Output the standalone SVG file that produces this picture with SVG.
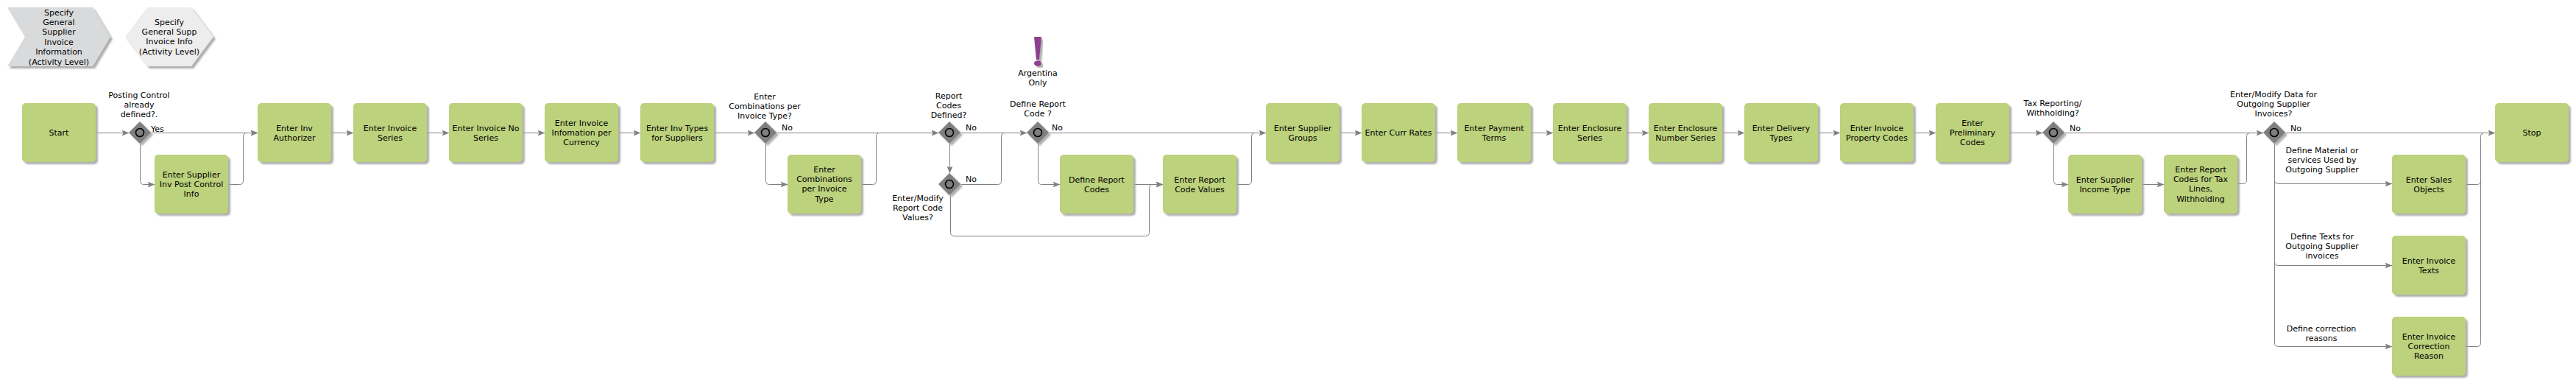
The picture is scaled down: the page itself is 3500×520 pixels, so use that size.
<svg xmlns="http://www.w3.org/2000/svg" width="3500" height="520" viewBox="0 0 3500 520">
<style>
text{font-family:"DejaVu Sans",Verdana,sans-serif;font-size:11px;fill:#000;text-anchor:middle}
text.l{text-anchor:start}
.n{fill:#bcd27b}
.s{filter:url(#sh)}
.c path{fill:none;stroke:#808080;stroke-width:1}
.c path.a{marker-end:url(#ah)}
.d{fill:#7f7f7f}
.o{fill:#7f7f7f;stroke:#000;stroke-width:1.6}
</style>
<defs>
<filter id="sh" x="-20%" y="-20%" width="140%" height="140%"><feDropShadow dx="3" dy="3" stdDeviation="1" flood-color="#a0a0a0" flood-opacity="0.85"/></filter>
<marker id="ah" markerUnits="userSpaceOnUse" markerWidth="12" markerHeight="10" refX="10" refY="4.5" orient="auto"><path d="M0 0.5L10 4.5L0 8.5L2 4.5Z" fill="#808080"/></marker>
<rect id="box" class="n" width="100" height="80" rx="5"/>
<g id="dia"><path class="d" d="M0-15L15 0L0 15L-15 0Z"/><circle class="o" r="5.5"/></g>
</defs>
<g id="connectors" class="c" transform="translate(.5 .5)">
<path class="a" d="M130 180H175"/>
<path class="a" d="M205 180H350"/>
<path class="a" d="M190 195V245Q190 250 195 250H210"/>
<path class="a" d="M310 250H325Q330 250 330 245V185Q330 180 335 180H350"/>
<path class="a" d="M450 180H480"/>
<path class="a" d="M580 180H610"/>
<path class="a" d="M710 180H740"/>
<path class="a" d="M840 180H870"/>
<path class="a" d="M970 180H1025"/>
<path class="a" d="M1055 180H1275"/>
<path class="a" d="M1040 195V245Q1040 250 1045 250H1070"/>
<path d="M1170 250H1185Q1190 250 1190 245V185Q1190 180 1195 180H1210"/>
<path class="a" d="M1305 180H1395"/>
<path class="a" d="M1290 195V235"/>
<path d="M1305 250H1355Q1360 250 1360 245V185Q1360 180 1365 180H1376"/>
<path class="a" d="M1291 265V315Q1291 320 1296 320H1556Q1561 320 1561 315V255Q1561 250 1566 250H1580"/>
<path class="a" d="M1425 180H1720"/>
<path class="a" d="M1410 195V245Q1410 250 1415 250H1440"/>
<path class="a" d="M1540 250H1580"/>
<path d="M1680 250H1695Q1700 250 1700 245V185Q1700 180 1705 180H1715"/>
<path class="a" d="M1820 180H1850"/>
<path class="a" d="M1950 180H1980"/>
<path class="a" d="M2080 180H2110"/>
<path class="a" d="M2210 180H2240"/>
<path class="a" d="M2340 180H2370"/>
<path class="a" d="M2470 180H2500"/>
<path class="a" d="M2600 180H2630"/>
<path class="a" d="M2730 180H2775"/>
<path class="a" d="M2805 180H3075"/>
<path class="a" d="M2790 195V245Q2790 250 2795 250H2810"/>
<path class="a" d="M2910 250H2940"/>
<path d="M3040 249H3047Q3052 249 3052 244V185Q3052 180 3057 180H3065"/>
<path class="a" d="M3105 180H3390"/>
<path class="a" d="M3090 195V244Q3090 249 3095 249H3250"/>
<path class="a" d="M3090 244V355Q3090 360 3095 360H3250"/>
<path class="a" d="M3090 355V465Q3090 470 3095 470H3250"/>
<path d="M3350 250H3365Q3370 250 3370 245"/>
<path d="M3350 470H3365Q3370 470 3370 465V185Q3370 180 3375 180H3385"/>
</g>
<g id="chevron" class="s"><path d="M10 10H126L150 50L126 90H10L34 50Z" fill="#d9dadc"/></g>
<g id="chevron-label"><text x="80" y="21">Specify</text><text x="80" y="34">General</text><text x="80" y="47">Supplier</text><text x="80" y="61">Invoice</text><text x="80" y="74">Information</text><text x="80" y="88">(Activity Level)</text></g>
<g id="hexagon" class="s"><path d="M170 50L200 10H260L290 50L260 90H200Z" fill="#ededed"/></g>
<g id="hexagon-label"><text x="230" y="34">Specify</text><text x="230" y="47">General Supp</text><text x="230" y="60">Invoice Info</text><text x="230" y="74">(Activity Level)</text></g>

<g id="start"><use href="#box" class="s" x="30" y="140"/><text x="80" y="184">Start</text></g>
<g id="gw1"><use href="#dia" class="s" x="190" y="180"/><text x="189" y="133">Posting Control</text><text x="189" y="146">already</text><text x="189" y="159">defined?.</text><text class="l" x="205" y="179">Yes</text></g>
<g id="postcontrol"><use href="#box" class="s" x="210" y="210"/><text x="260" y="241">Enter Supplier</text><text x="260" y="254">Inv Post Control</text><text x="260" y="267">Info</text></g>
<g id="authorizer"><use href="#box" class="s" x="350" y="140"/><text x="400" y="178">Enter Inv</text><text x="400" y="191">Authorizer</text></g>
<g id="series"><use href="#box" class="s" x="480" y="140"/><text x="530" y="178">Enter Invoice</text><text x="530" y="191">Series</text></g>
<g id="noseries"><use href="#box" class="s" x="610" y="140"/><text x="660" y="178">Enter Invoice No</text><text x="660" y="191">Series</text></g>
<g id="currency"><use href="#box" class="s" x="740" y="140"/><text x="790" y="171">Enter Invoice</text><text x="790" y="184">Infomation per</text><text x="790" y="197">Currency</text></g>
<g id="invtypes"><use href="#box" class="s" x="870" y="140"/><text x="920" y="178">Enter Inv Types</text><text x="920" y="191">for Suppliers</text></g>
<g id="gw2"><use href="#dia" class="s" x="1040" y="180"/><text x="1039" y="135">Enter</text><text x="1039" y="148">Combinations per</text><text x="1039" y="161">Invoice Type?</text><text class="l" x="1062" y="177">No</text></g>
<g id="combos"><use href="#box" class="s" x="1070" y="210"/><text x="1120" y="234">Enter</text><text x="1120" y="247">Combinations</text><text x="1120" y="260">per Invoice</text><text x="1120" y="274">Type</text></g>
<g id="gw3"><use href="#dia" class="s" x="1290" y="180"/><text x="1289" y="134">Report</text><text x="1289" y="147">Codes</text><text x="1289" y="160">Defined?</text><text class="l" x="1312" y="177">No</text></g>
<g id="gw4"><use href="#dia" class="s" x="1290" y="250"/><text x="1247" y="273">Enter/Modify</text><text x="1247" y="286">Report Code</text><text x="1247" y="299">Values?</text><text class="l" x="1312" y="247">No</text></g>
<g id="argentina"><path class="s" d="M1405 50H1415L1412 81H1408Z" fill="#8e3f8f"/><ellipse class="s" cx="1410" cy="86" rx="5" ry="3.8" fill="#8e3f8f"/><text x="1410" y="103">Argentina</text><text x="1410" y="116">Only</text></g>
<g id="gw5"><use href="#dia" class="s" x="1410" y="180"/><text x="1410" y="145">Define Report</text><text x="1410" y="158">Code ?</text><text class="l" x="1429" y="177">No</text></g>
<g id="reportcodes"><use href="#box" class="s" x="1440" y="210"/><text x="1490" y="248">Define Report</text><text x="1490" y="261">Codes</text></g>
<g id="reportvalues"><use href="#box" class="s" x="1580" y="210"/><text x="1630" y="248">Enter Report</text><text x="1630" y="261">Code Values</text></g>
<g id="groups"><use href="#box" class="s" x="1720" y="140"/><text x="1770" y="178">Enter Supplier</text><text x="1770" y="191">Groups</text></g>
<g id="rates"><use href="#box" class="s" x="1850" y="140"/><text x="1900" y="184">Enter Curr Rates</text></g>
<g id="terms"><use href="#box" class="s" x="1980" y="140"/><text x="2030" y="178">Enter Payment</text><text x="2030" y="191">Terms</text></g>
<g id="enclosure"><use href="#box" class="s" x="2110" y="140"/><text x="2160" y="178">Enter Enclosure</text><text x="2160" y="191">Series</text></g>
<g id="enclosureno"><use href="#box" class="s" x="2240" y="140"/><text x="2290" y="178">Enter Enclosure</text><text x="2290" y="191">Number Series</text></g>
<g id="delivery"><use href="#box" class="s" x="2370" y="140"/><text x="2420" y="178">Enter Delivery</text><text x="2420" y="191">Types</text></g>
<g id="property"><use href="#box" class="s" x="2500" y="140"/><text x="2550" y="178">Enter Invoice</text><text x="2550" y="191">Property Codes</text></g>
<g id="preliminary"><use href="#box" class="s" x="2630" y="140"/><text x="2680" y="171">Enter</text><text x="2680" y="184">Preliminary</text><text x="2680" y="197">Codes</text></g>
<g id="gw6"><use href="#dia" class="s" x="2790" y="180"/><text x="2789" y="144">Tax Reporting/</text><text x="2789" y="157">Withholding?</text><text class="l" x="2812" y="178">No</text></g>
<g id="income"><use href="#box" class="s" x="2810" y="210"/><text x="2860" y="248">Enter Supplier</text><text x="2860" y="261">Income Type</text></g>
<g id="taxcodes"><use href="#box" class="s" x="2940" y="210"/><text x="2990" y="234">Enter Report</text><text x="2990" y="247">Codes for Tax</text><text x="2990" y="260">Lines,</text><text x="2990" y="274">Withholding</text></g>
<g id="gw7"><use href="#dia" class="s" x="3090" y="180"/><text x="3089" y="132">Enter/Modify Data for</text><text x="3089" y="145">Outgoing Supplier</text><text x="3089" y="158">Invoices?</text><text class="l" x="3112" y="178">No</text></g>
<g id="lbl-material"><text x="3155" y="208">Define Material or</text><text x="3155" y="221">services Used by</text><text x="3155" y="234">Outgoing Supplier</text></g>
<g id="lbl-texts"><text x="3155" y="325">Define Texts for</text><text x="3155" y="338">Outgoing Supplier</text><text x="3155" y="351">invoices</text></g>
<g id="lbl-correction"><text x="3154" y="450">Define correction</text><text x="3154" y="463">reasons</text></g>
<g id="sales"><use href="#box" class="s" x="3250" y="210"/><text x="3300" y="248">Enter Sales</text><text x="3300" y="261">Objects</text></g>
<g id="texts"><use href="#box" class="s" x="3250" y="320"/><text x="3300" y="358">Enter Invoice</text><text x="3300" y="371">Texts</text></g>
<g id="correction"><use href="#box" class="s" x="3250" y="430"/><text x="3300" y="461">Enter Invoice</text><text x="3300" y="474">Correction</text><text x="3300" y="487">Reason</text></g>
<g id="stop"><use href="#box" class="s" x="3390" y="140"/><text x="3440" y="184">Stop</text></g>
</svg>
